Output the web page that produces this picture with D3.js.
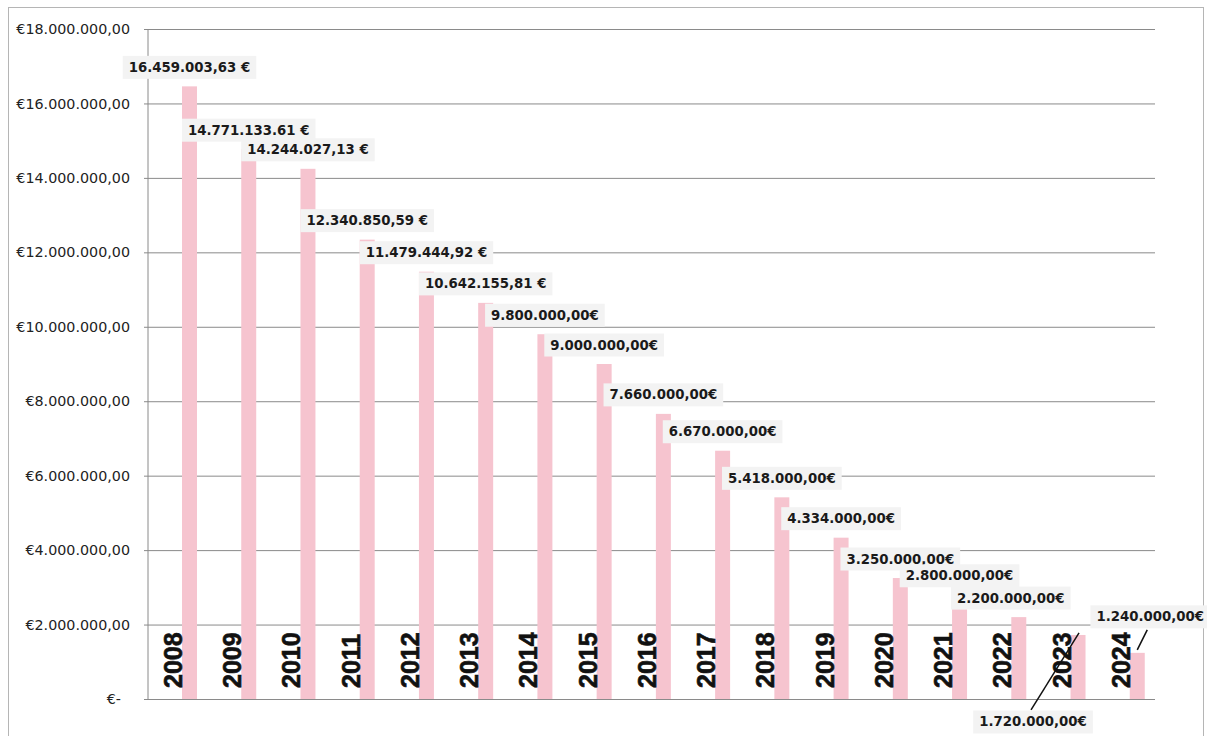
<!DOCTYPE html>
<html>
<head>
<meta charset="utf-8">
<script src="https://cdn.jsdelivr.net/npm/d3@7"></script>
<style>
  html, body { margin: 0; padding: 0; background: #ffffff; }
  svg { display: block; }
</style>
</head>
<body>
<svg id="chart" width="1207" height="736"></svg>
<script>
const years = ["2008","2009","2010","2011","2012","2013","2014","2015","2016","2017","2018","2019","2020","2021","2022","2023","2024"];
const values = [16459003.63, 14771133.61, 14244027.13, 12340850.59, 11479444.92, 10642155.81, 9800000, 9000000, 7660000, 6670000, 5418000, 4334000, 3250000, 2800000, 2200000, 1720000, 1240000];
const valueLabels = ["16.459.003,63 €","14.771.133.61 €","14.244.027,13 €","12.340.850,59 €","11.479.444,92 €","10.642.155,81 €","9.800.000,00€","9.000.000,00€","7.660.000,00€","6.670.000,00€","5.418.000,00€","4.334.000,00€","3.250.000,00€","2.800.000,00€","2.200.000,00€","1.720.000,00€","1.240.000,00€"];
const yTicks = [0, 2000000, 4000000, 6000000, 8000000, 10000000, 12000000, 14000000, 16000000, 18000000];
const yTickLabels = ["€-\u00A0\u00A0","€2.000.000,00","€4.000.000,00","€6.000.000,00","€8.000.000,00","€10.000.000,00","€12.000.000,00","€14.000.000,00","€16.000.000,00","€18.000.000,00"];

(function () {
const svg = d3.select("#chart");
const pLeft = 148, pRight = 1155, pTop = 29, pBottom = 699;

// outer frame
svg.append("rect").attr("x", 8.5).attr("y", 7.5).attr("width", 1195).attr("height", 740)
  .attr("fill", "none").attr("stroke", "#b5b5b5").attr("stroke-width", 1);

const x = d3.scaleBand().domain(years).range([pLeft, pRight]).padding(0);
const y = d3.scaleLinear().domain([0, 18000000]).range([pBottom, pTop]);
const bw = x.bandwidth();

// gridlines
const grid = svg.append("g").attr("transform", `translate(${pLeft},0)`)
  .call(d3.axisLeft(y).tickValues(yTicks).tickSize(-(pRight - pLeft)).tickFormat(""));
grid.select(".domain").remove();
grid.selectAll(".tick line").attr("stroke", "#8a8a8a").attr("stroke-width", 1);

// y axis
const yAxis = svg.append("g").attr("transform", `translate(${pLeft},0)`)
  .call(d3.axisLeft(y).tickValues(yTicks).tickSize(4).tickPadding(14)
    .tickFormat((d, i) => yTickLabels[i]));
yAxis.select(".domain").attr("stroke", "#8a8a8a").attr("d", `M0,${pTop}V${pBottom}`);
yAxis.selectAll(".tick line").attr("stroke", "#8a8a8a");
yAxis.selectAll(".tick text").attr("fill", "#222").style("font-family", "DejaVu Sans")
  .style("font-size", "14.3px").style("white-space", "pre");

// bars
const barX = d => x(d) + 0.574 * bw;
const barW = 0.253 * bw;
svg.append("g").selectAll("rect").data(years).join("rect")
  .attr("x", d => barX(d))
  .attr("y", (d, i) => y(values[i]))
  .attr("width", barW)
  .attr("height", (d, i) => pBottom - y(values[i]))
  .attr("fill", "#f6c4cf");

// year labels
svg.append("g").selectAll("text").data(years).join("text")
  .attr("transform", d => `translate(${barX(d)},688) rotate(-90)`)
  .attr("text-anchor", "start")
  .style("font-family", "Liberation Sans, Arial, sans-serif")
  .style("font-weight", "bold").style("font-size", "25px").attr("fill", "#111")
  .attr("stroke", "#111").attr("stroke-width", 0.6)
  .text(d => d);

// value labels
const special = {
  "2022": { dx: -8, dy: -19 },
  "2023": { dx: -45, dy: 87, line: [[1, -2], [-47, 75]] },
  "2024": { dx: 13, dy: -36, line: [[0, -3], [10, -23]] }
};
const labG = svg.append("g");
years.forEach((yr, i) => {
  const cx = barX(yr) + barW / 2;
  const ty = y(values[i]);
  const sp = special[yr];
  const lx = cx + (sp ? sp.dx : 0);
  const ly = ty + (sp ? sp.dy : -19);
  if (sp && sp.line) {
    labG.append("line")
      .attr("x1", cx + sp.line[0][0]).attr("y1", ty + sp.line[0][1])
      .attr("x2", cx + sp.line[1][0]).attr("y2", ty + sp.line[1][1])
      .attr("stroke", "#111").attr("stroke-width", 1.5);
  }
  const g = labG.append("g");
  const rect = g.append("rect").attr("fill", "#f3f3f3");
  const t = g.append("text").attr("x", lx).attr("y", ly)
    .attr("text-anchor", "middle").attr("dominant-baseline", "central")
    .style("font-family", "DejaVu Sans").style("font-weight", "bold")
    .style("font-size", "13.3px").attr("fill", "#1a1a1a")
    .text(valueLabels[i]);
  const bb = t.node().getBBox();
  rect.attr("x", bb.x - 6).attr("y", bb.y - 4).attr("width", bb.width + 12).attr("height", bb.height + 8);
});
})();
</script>
</body>
</html>
